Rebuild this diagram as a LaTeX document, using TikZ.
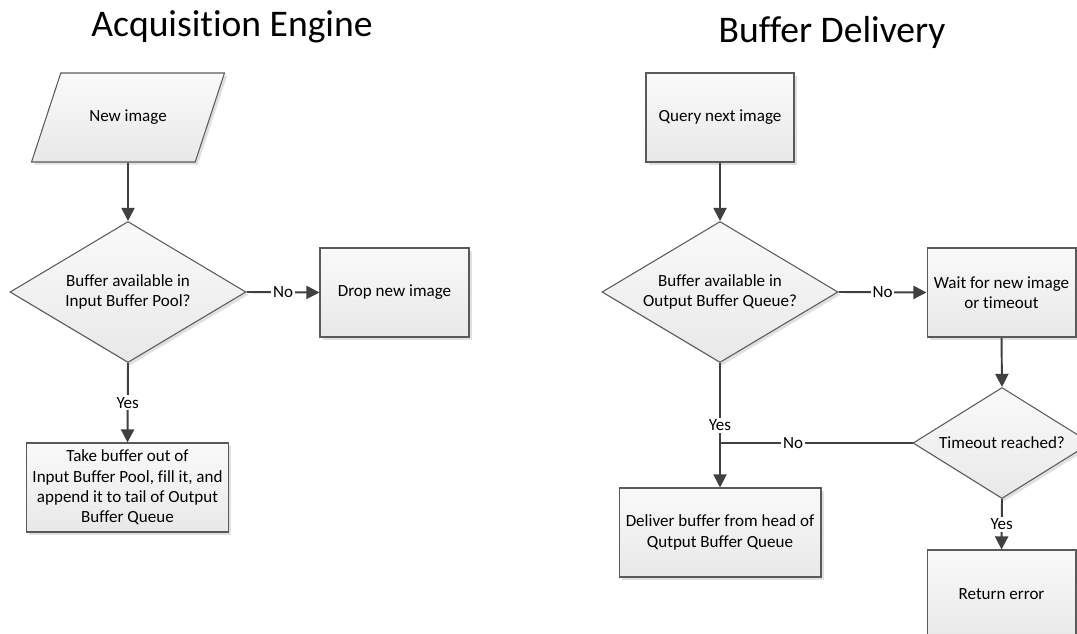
\documentclass[tikz,border=0pt]{standalone}
\usepackage{fontspec}
\setmainfont{Carlito}[Ligatures=NoCommon]
\usetikzlibrary{shapes.geometric, arrows.meta, shadows}
\definecolor{linegray}{HTML}{404040}
\definecolor{edgegray}{HTML}{5A5A5A}

\begin{document}
\begin{tikzpicture}[x=0.02cm, y=-0.02cm,
    every node/.style={font=\fontsize{9.7}{11.6}\selectfont},
    shapebase/.style={draw=edgegray, line width=0.6pt, top color=white!98!black,
        bottom color=white!91!black, align=center,
        drop shadow={shadow xshift=1.5pt, shadow yshift=-1.5pt, fill=black!12, opacity=1}},
    process/.style={shapebase, rectangle, minimum height=1.78cm},
    decision/.style={shapebase, diamond, inner sep=0pt, aspect=1.65},
    inout/.style={shapebase, trapezium, trapezium left angle=42, trapezium right angle=138,
        trapezium stretches body=true},
    flow/.style={draw=linegray, line width=1.1pt, -{Triangle[length=7.5pt, width=7.5pt]}},
    branch/.style={fill=white, inner sep=1pt},
    title/.style={font=\fontsize{21.4}{25}\selectfont, anchor=base}]
            \path[use as bounding box, clip] (0,0) rectangle (1077,634);
            \node[title] (ttlA) at (232,37) {Acquisition Engine};
            \node[title] (ttlB) at (832,43) {Buffer Delivery};
            \node[inout, minimum width=3.86cm, minimum height=1.78cm] (newimg) at (128,117.5) {New image};
            \node[decision, minimum width=4.72cm, minimum height=2.82cm] (availin) at (128,292) {Buffer available in\\Input Buffer Pool?};
            \node[process, minimum width=2.98cm] (drop) at (394.5,292.5) {Drop new image};
            \node[process, minimum width=4.02cm] (take) at (127.5,487.5) {Take buffer out of\\Input Buffer Pool, fill it, and\\append it to tail of Output\\Buffer Queue};
            \node[process, minimum width=2.96cm] (query) at (720,117.5) {Query next image};
            \node[decision, minimum width=4.72cm, minimum height=2.82cm] (availout) at (720,292) {Buffer available in\\Output Buffer Queue?};
            \node[process, minimum width=2.98cm] (wait) at (1001.5,292.5) {Wait for new image\\or timeout};
            \node[decision, minimum width=3.56cm, minimum height=2.22cm] (timeout) at (1002,443) {Timeout reached?};
            \node[process, minimum width=4.04cm] (deliver) at (720,532.5) {Deliver buffer from head of\\Qutput Buffer Queue};
            \node[process, minimum width=2.98cm] (err) at (1001.5,594.5) {Return error};
            \draw[flow] (newimg.south) -- (availin.north);
            \draw[flow] (availin.east) -- node[branch]{No} (drop.west);
            \draw[flow] (availin.south) -- node[branch]{Yes} (take.north);
            \draw[flow] (query.south) -- (availout.north);
            \draw[flow] (availout.east) -- node[branch]{No} (wait.west);
            \draw[flow] (availout.south) -- node[branch]{Yes} (deliver.north);
            \draw[flow] (wait.south) -- (timeout.north);
            \draw[flow] (timeout.south) -- node[branch]{Yes} (err.north);
            \draw[draw=linegray, line width=1.1pt] (timeout.west) -- node[branch, pos=0.62]{No} (timeout.west -| availout.south);
        \end{tikzpicture}
\end{document}
